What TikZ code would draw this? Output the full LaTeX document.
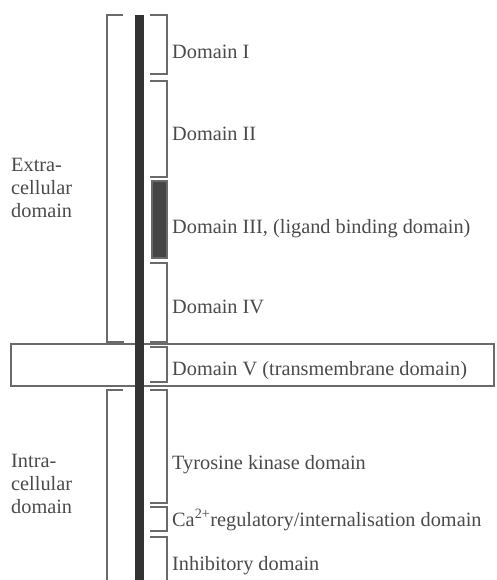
\documentclass[tikz,border=0pt]{standalone}
\usepackage{fontspec}
\setmainfont{Liberation Serif}
\definecolor{linec}{HTML}{6A6A6A}
\definecolor{barc}{HTML}{333333}
\definecolor{txtc}{HTML}{4A4A4A}
\definecolor{ligc}{HTML}{454545}
\begin{document}
\begin{tikzpicture}[x=1pt,y=-1pt,
  brk/.style={draw=linec,line width=1.2pt},
  lbl/.style={anchor=base west,inner sep=0pt,text=txtc,font=\fontsize{20.3}{23}\selectfont},
  side/.style={anchor=west,inner sep=0pt,text=txtc,align=left,font=\fontsize{20.3}{23}\selectfont}]
\useasboundingbox (0,0) rectangle (496,580);
% membrane
\draw[brk] (11,344) rectangle (494,386);
% left brackets
\draw[brk] (123,15) -- (107,15) -- (107,342) -- (124,342);
\draw[brk] (123,390) -- (107,390) -- (107,580);
% right brackets
\draw[brk] (150,15) -- (167,15) -- (167,74) -- (150,74);
\draw[brk] (150,81) -- (167,81) -- (167,177) -- (150,177);
\draw[brk,fill=ligc] (152,181) rectangle (167,258);
\draw[brk] (150,263) -- (167,263) -- (167,342) -- (150,342);
\draw[brk] (150,347) -- (167,347) -- (167,382) -- (150,382);
\draw[brk] (150,390) -- (167,390) -- (167,503) -- (150,503);
\draw[brk] (150,507) -- (167,507) -- (167,531) -- (150,531);
\draw[brk] (150,537) -- (167,537) -- (167,580);
% receptor bar
\fill[barc] (135,15) rectangle (144,580);
% labels
\node[lbl] (d1) at (172,59) {Domain I};
\node[lbl] (d2) at (172,141) {Domain II};
\node[lbl] (d3) at (172,233) {Domain III, (ligand binding domain)};
\node[lbl] (d4) at (172,313) {Domain IV};
\node[lbl] (d5) at (172,375) {Domain V (transmembrane domain)};
\node[lbl] (tk) at (172,469) {Tyrosine kinase domain};
\node[lbl] (ca) at (172,526) {Ca\textsuperscript{2+}regulatory/internalisation domain};
\node[lbl] (inh) at (172,570) {Inhibitory domain};
\node[side] (ex) at (11,188) {Extra-\\cellular\\domain};
\node[side] (in) at (11,484) {Intra-\\cellular\\domain};
\end{tikzpicture}
\end{document}
